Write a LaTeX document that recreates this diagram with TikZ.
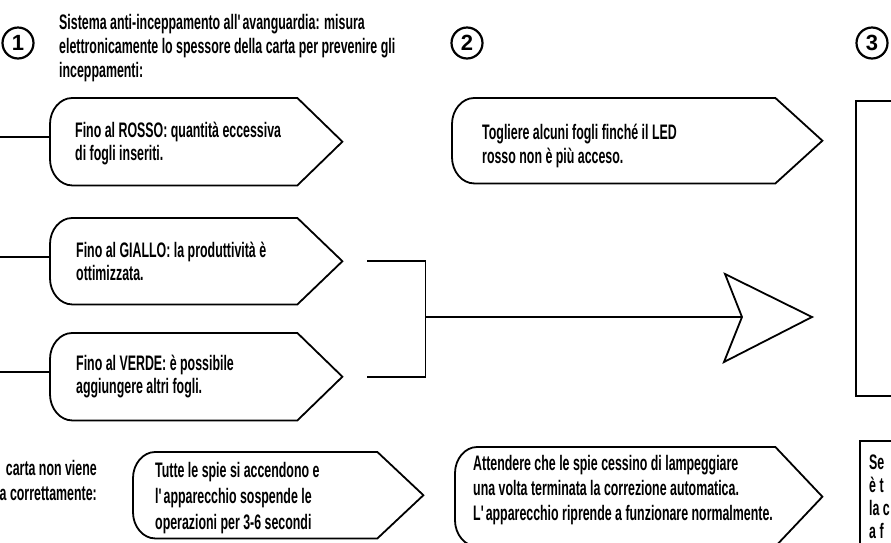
\documentclass[tikz,border=0pt]{standalone}
\usepackage{fontspec}
\setmainfont{Liberation Sans}[FakeStretch=0.59]
\newfontfamily\numfont{Liberation Sans}
\usetikzlibrary{calc}
\newcommand\linesL[1]{\vtop{\halign{##\hfil\cr#1\crcr}}}
\newcommand\linesR[1]{\vtop{\halign{\hfil##\cr#1\crcr}}}
\newcommand\drawcallout[2]{%
  \draw[outline] (#1.north east) -- ($(#1.east)+(#2,0)$) coordinate (#1-tip)
    -- (#1.south east) -- ($(#1.south west)+(22,0)$)
    .. controls ($(#1.south west)+(10,0)$) and ($(#1.south west)+(0,-12)$) .. ($(#1.south west)+(0,-26)$)
    -- ($(#1.north west)+(0,26)$)
    .. controls ($(#1.north west)+(0,12)$) and ($(#1.north west)+(10,0)$) .. ($(#1.north west)+(22,0)$)
    -- cycle;}
\tikzset{
  txt/.style={inner sep=0pt, anchor=base west, font=\bfseries\fontsize{21}{23}\selectfont},
  outline/.style={draw, line width=1.8pt, line join=miter},
  wire/.style={draw, line width=1.8pt, line join=miter},
  holder/.style={inner sep=0pt, anchor=north west},
  num/.style={circle, draw, line width=2.2pt, minimum size=31pt, inner sep=0pt,
    font=\numfont\bfseries\fontsize{22}{22}\selectfont},
}
\begin{document}
\begin{tikzpicture}[x=1pt,y=-1pt]
\useasboundingbox (0,0) rectangle (891,542);
\fill[white] (0,0) rectangle (891,542);

% step numbers
\node[num] (n1) at (18,43) {1};
\node[num] (n2) at (467,43) {2};
\node[num] (n3) at (872,43) {3};

% title
\node[txt, font=\bfseries\fontsize{21}{24}\selectfont] (title) at (59,29.5)
  {\linesL{Sistema anti-inceppamento all\textquotesingle avanguardia: misura\cr
   elettronicamente lo spessore della carta per prevenire gli\cr inceppamenti:}};

% callout holders
\node[holder, minimum width=247pt, minimum height=87pt] (rosso) at (50,98) {};
\node[holder, minimum width=247pt, minimum height=86pt] (giallo) at (50,218) {};
\node[holder, minimum width=247pt, minimum height=87pt] (verde) at (50,333) {};
\node[holder, minimum width=323pt, minimum height=85pt] (togliere) at (452,98) {};
\node[holder, minimum width=244pt, minimum height=86pt] (tutte) at (133,452) {};
\node[holder, minimum width=320pt, minimum height=99pt] (attendere) at (455,447) {};

\drawcallout{rosso}{45}
\drawcallout{giallo}{45}
\drawcallout{verde}{45}
\drawcallout{togliere}{47}
\drawcallout{tutte}{46}
\drawcallout{attendere}{47}

% callout texts
\node[txt] (rosso-t) at (75,137) {\linesL{Fino al ROSSO: quantità eccessiva\cr di fogli inseriti.}};
\node[txt] (giallo-t) at (76,257) {\linesL{Fino al GIALLO: la produttività è\cr ottimizzata.}};
\node[txt] (verde-t) at (76,370) {\linesL{Fino al VERDE: è possibile\cr aggiungere altri fogli.}};
\node[txt, font=\bfseries\fontsize{21}{24}\selectfont] (togliere-t) at (482,139)
  {\linesL{Togliere alcuni fogli finché il LED\cr rosso non è più acceso.}};
\node[txt, font=\bfseries\fontsize{21}{26}\selectfont] (tutte-t) at (155,477)
  {\linesL{Tutte le spie si accendono e\cr l\textquotesingle apparecchio sospende le\cr operazioni per 3-6 secondi}};
\node[txt, font=\bfseries\fontsize{21}{25}\selectfont] (attendere-t) at (473,470)
  {\linesL{Attendere che le spie cessino di lampeggiare\cr una volta terminata la correzione automatica.\cr L\textquotesingle apparecchio riprende a funzionare normalmente.}};

% left stubs
\coordinate (sr) at (0,137);
\coordinate (sg) at (0,257);
\coordinate (sv) at (0,372);
\draw[wire] (sr) -- (sr -| rosso.west);
\draw[wire] (sg) -- (sg -| giallo.west);
\draw[wire] (sv) -- (sv -| verde.west);

% bracket and big arrow
\coordinate (bg) at ($(giallo-tip)+(25,0)$);
\coordinate (bv) at ($(verde-tip)+(25,0)$);
\draw[wire] (bg) -- ++(58,0) |- (bv);
\coordinate (bx) at (425,317);
\coordinate (atip) at (812,317);
\coordinate (anotch) at ($(atip)+(-70,0)$);
\draw[wire] (bx) -- (anotch);
\draw[outline, fill=white] ($(atip)+(-87,-43)$) -- (atip) -- ($(atip)+(-88,45)$) -- (anotch) -- cycle;

% right boxes
\node[draw, line width=1.8pt, holder, minimum width=80pt, minimum height=295pt] (box3) at (855,100) {};
\node[draw, line width=1.8pt, holder, minimum width=80pt, minimum height=160pt] (box4) at (859,440) {};
\node[txt] (box4-t) at (869,469) {\linesL{Se\cr è t\cr la c\cr a f}};

% bottom-left text
\node[txt, anchor=base east, font=\bfseries\fontsize{21}{25}\selectfont] (left-t) at (97,475)
  {\linesR{carta non viene\cr a correttamente:}};
\end{tikzpicture}
\end{document}
